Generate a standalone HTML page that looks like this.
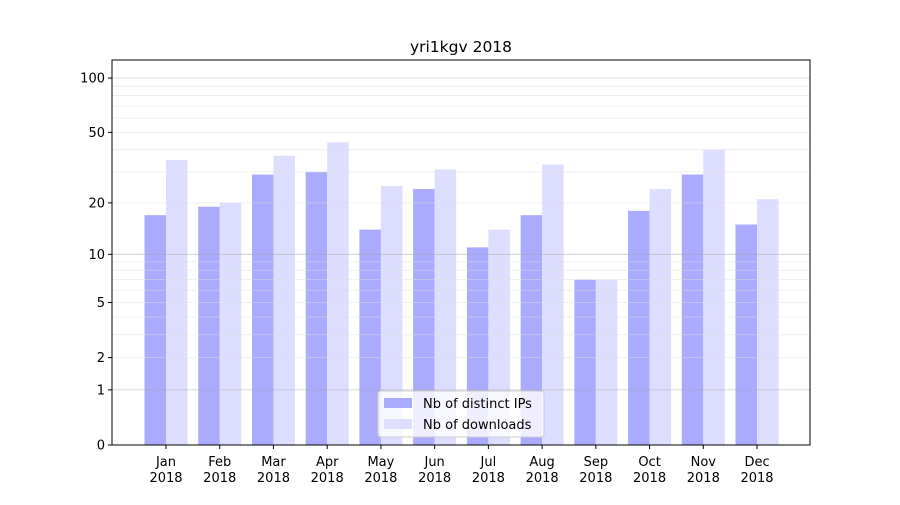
<!DOCTYPE html>
<html><head><meta charset="utf-8"><style>
body{margin:0;background:#fff;font-family:"Liberation Sans","DejaVu Sans",sans-serif;}
svg text{font-family:"DejaVu Sans","Liberation Sans",sans-serif;}
</style></head><body>
<svg id="chart" width="900" height="500" viewBox="0 0 900 500" xmlns="http://www.w3.org/2000/svg">
<rect width="900" height="500" fill="#fff"/>
<g id="bars"></g><g id="grid" opacity="0.6"></g><g id="axes"></g>
</svg>
<script>
const months=["Jan","Feb","Mar","Apr","May","Jun","Jul","Aug","Sep","Oct","Nov","Dec"];
const ips=[17,19,29,30,14,24,11,17,7,18,29,15];
const downloads=[35,20,37,44,25,31,14,33,7,24,40,21];
const yTicks=[0,1,2,5,10,20,50,100];
const NS="http://www.w3.org/2000/svg";
const X0=112,X1=810,Y0=60,Y1=445;
function y(v){return Y1-183.1*Math.log10(1+v);}
function xc(i){return 166+i*53.73;}
function el(t,a,p,txt){const e=document.createElementNS(NS,t);for(const k in a)e.setAttribute(k,a[k]);if(txt!==undefined)e.textContent=txt;document.getElementById(p).appendChild(e);return e;}
const minors=[2,3,4,5,6,7,8,9,20,30,40,50,60,70,80,90];
minors.forEach(v=>{const l=el('line',{x1:X0,x2:X1,y1:y(v),y2:y(v),stroke:'#e0e0e0','stroke-width':0.8},'grid');

});
[1,10,100].forEach(v=>{const l=el('line',{x1:X0,x2:X1,y1:y(v),y2:y(v),stroke:'#a8a8a8','stroke-width':0.8},'grid');

});
const bw=21.5;
months.forEach((m,i)=>{
 const a=el('rect',{x:xc(i)-bw,y:y(ips[i]),width:bw,height:Y1-y(ips[i]),fill:'#aaaaff'},'bars');
 
 
 const b=el('rect',{x:xc(i),y:y(downloads[i]),width:bw,height:Y1-y(downloads[i]),fill:'#ddddff'},'bars');
 
 
 const t1=el('line',{x1:xc(i),x2:xc(i),y1:Y1,y2:Y1+4,stroke:'#000'},'axes');
 
 
 const l1=el('text',{x:xc(i),y:466,'font-size':13,'text-anchor':'middle'},'axes',m);
 
 
 const l2=el('text',{x:xc(i),y:482,'font-size':13,'text-anchor':'middle'},'axes','2018');
 
 
});
yTicks.forEach(v=>{
 const t=el('line',{x1:X0-4,x2:X0,y1:y(v),y2:y(v),stroke:'#000'},'axes');
 
 
 const l=el('text',{x:X0-7,y:y(v)+4.5,'font-size':13,'text-anchor':'end'},'axes',String(v));
 
 
});
const fr=el('rect',{x:X0,y:Y0,width:X1-X0,height:Y1-Y0,fill:'none',stroke:'#000','stroke-width':1},'axes');


const ti=el('text',{x:461,y:52,'font-size':15.5,'text-anchor':'middle'},'axes','yri1kgv 2018');


const lg=el('rect',{x:378,y:391,width:166,height:46,rx:3,fill:'#fff','fill-opacity':0.8,stroke:'#ccc'},'axes');


const s1=el('rect',{x:384,y:398,width:28,height:10,fill:'#aaaaff'},'axes');


const e1=el('text',{x:423,y:408,'font-size':13},'axes','Nb of distinct IPs');


const s2=el('rect',{x:384,y:419,width:28,height:10,fill:'#ddddff'},'axes');


const e2=el('text',{x:423,y:429,'font-size':13},'axes','Nb of downloads');


</script>
</body></html>
